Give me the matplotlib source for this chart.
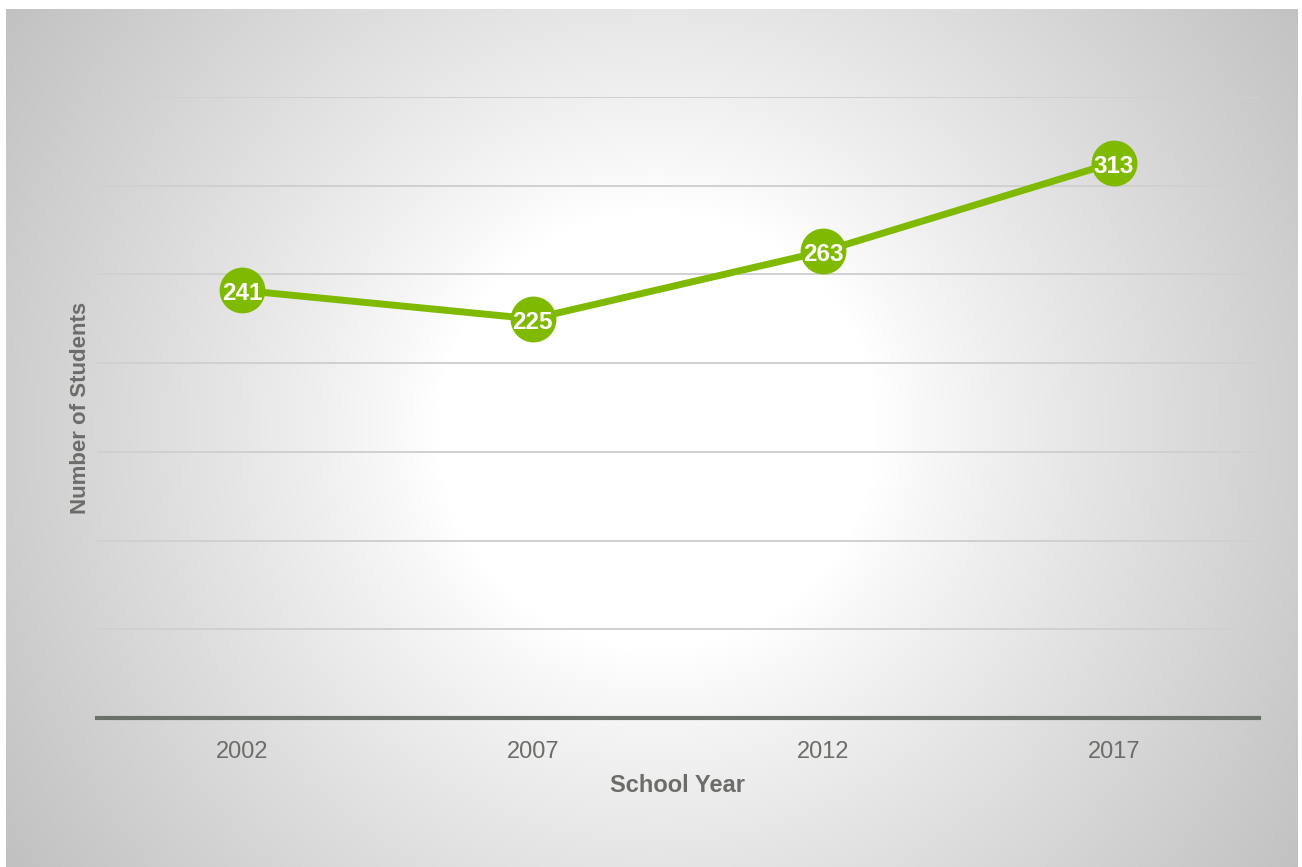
import numpy as np
import matplotlib
matplotlib.use("Agg")
import matplotlib.pyplot as plt

plt.rcParams['font.family'] = ['Liberation Sans', 'DejaVu Sans']

years = ['2002', '2007', '2012', '2017']
students = [241, 225, 263, 313]

green = '#7fba00'
text_grey = '#6b6e68'

fig = plt.figure(figsize=(13.02, 8.67), dpi=100)
fig.patch.set_facecolor('white')

# radial grey-to-white backdrop panel (computed on a pixel grid)
bg = fig.add_axes([6 / 1302, 0, 1292 / 1302, 858 / 867], zorder=0)
h, w = 429, 646
yy, xx = np.mgrid[0:h, 0:w] * 2.0
r = np.hypot(xx - 650, yy - 420)
t = np.clip((r - 220) / 560, 0, 1) ** 0.9
shade = (255 - 62 * t) / 255.0
bg.imshow(np.dstack([shade, shade, shade]), aspect='auto', extent=[0, 1, 0, 1])
bg.set_xlim(0, 1)
bg.set_ylim(0, 1)
bg.axis('off')

ax = fig.add_axes([97 / 1302, 1 - 718 / 867, 1162 / 1302, 621 / 867], zorder=1)
ax.patch.set_alpha(0)

x = np.arange(len(years))
ax.plot(x, students, color=green, lw=5, zorder=3, solid_capstyle='round')
ax.plot(x, students, 'o', color=green, markersize=33, markeredgewidth=0, zorder=4)
for xi, v in zip(x, students):
    ax.text(xi, v - 2, str(v), color='white', fontsize=17.5, fontweight='bold',
            ha='center', va='center', zorder=5)

ax.set_xlim(-0.5, len(years) - 0.5)
ax.set_ylim(0, 350)
ax.set_yticks(np.arange(50, 351, 50))
ax.yaxis.grid(True, color='#d0d0d0', lw=1.4)
ax.set_axisbelow(True)
ax.tick_params(axis='y', left=False, labelleft=False)
ax.set_xticks(x)
ax.set_xticklabels(years, fontsize=17, color=text_grey)
ax.tick_params(axis='x', bottom=False, pad=13)

for side in ['top', 'right', 'left']:
    ax.spines[side].set_visible(False)
ax.spines['bottom'].set_color('#6b7068')
ax.spines['bottom'].set_linewidth(3)

ax.set_xlabel('School Year', fontsize=17, fontweight='bold', color=text_grey, labelpad=8)
ax.set_ylabel('Number of Students', fontsize=16, fontweight='bold', color=text_grey, labelpad=4)

fig.savefig('out.png', dpi=100)
